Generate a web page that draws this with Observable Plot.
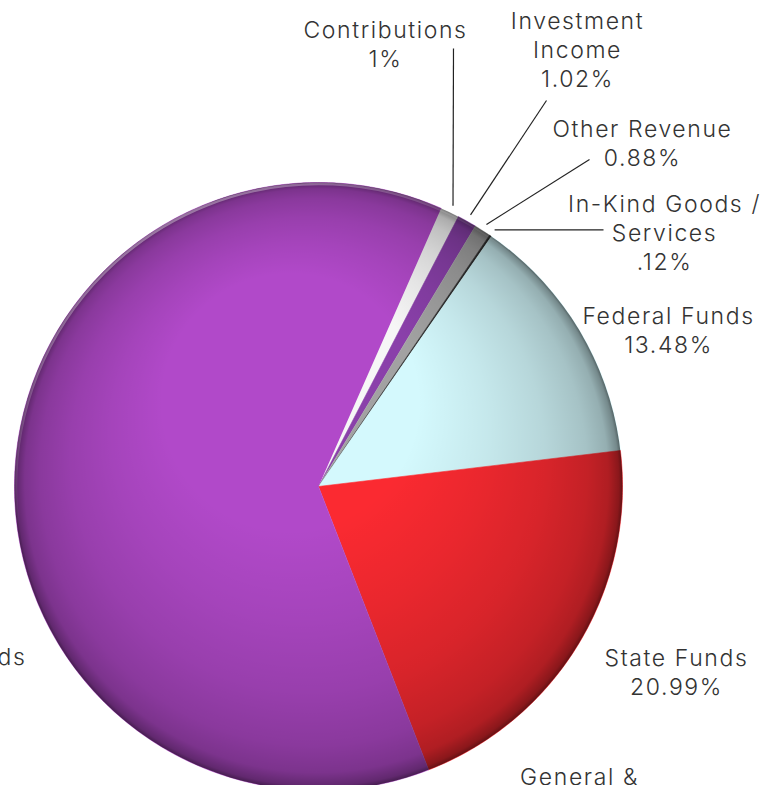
<!DOCTYPE html>
<html><head><meta charset="utf-8">
<script src="https://cdn.jsdelivr.net/npm/d3@7"></script>
<script src="https://cdn.jsdelivr.net/npm/@observablehq/plot@0.6"></script>
<style>html,body{margin:0;padding:0;background:#fff;} svg{display:block;}</style>
</head><body><div id="chart"></div>
<script>
// ---- data ----
const categories = ["Contributions", "Investment Income", "Other Revenue", "In-Kind Goods / Services", "Federal Funds", "State Funds", "General & Funds"];
const values = [1, 1.02, 0.88, 0.12, 13.48, 20.99, 62.51];
const labelTexts = ["Contributions\n1%", "Investment\nIncome\n1.02%", "Other Revenue\n0.88%", "In-Kind Goods /\nServices\n.12%", "Federal Funds\n13.48%", "State Funds\n20.99%", "General &"];
const edgeText = "Funds";

// ---- styles / layout ----
const colors = ["#f6f6f6", "#8a40aa", "#a2a2a2", "#2e2e2e", "#d4f9fd", "#fb2a31", "#b149c9"];
const W = 775, H = 785, CX = 318, CY = 486, R = 304;
const startDeg = 23.8;
// label block centres (pixels) and leader-line outer ends (pixels, null = no leader)
const labelPos = [[385, 43], [577, 48], [642, 142], [664, 231], [668, 329], [676, 671], [579, 775]];
const leaderEnd = [[453, 48], [546, 100], [589, 159], [603, null], null, null, null];

const px = v => (v - CX) / R, py = v => (CY - v) / R;
const total = d3.sum(values);
const rad = d => d * Math.PI / 180;

const slicePts = [];
const mids = [];
let acc = startDeg;
categories.forEach((c, i) => {
  const a0 = acc, a1 = acc + values[i] / total * 360; acc = a1;
  mids.push((a0 + a1) / 2);
  slicePts.push({c, x: 0, y: 0});
  const n = Math.max(2, Math.ceil((a1 - a0) / 0.5));
  for (let k = 0; k <= n; k++) {
    const a = rad(a0 + (a1 - a0) * k / n);
    slicePts.push({c, x: Math.sin(a), y: Math.cos(a)});
  }
});

const leaders = [];
leaderEnd.forEach((e, i) => {
  if (!e) return;
  const a = rad(mids[i]), r = 1.024;
  const x1 = r * Math.sin(a), y1 = r * Math.cos(a);
  leaders.push({x1, y1, x2: px(e[0]), y2: e[1] == null ? y1 : py(e[1])});
});

const labels = labelTexts.map((t, i) => ({t, x: px(labelPos[i][0]), y: py(labelPos[i][1])}));

function defs() {
  const g = d3.create("svg:defs");
  const rg = g.append("radialGradient").attr("id", "shade")
    .attr("cx", 0.5).attr("cy", 0.5).attr("r", 0.5).attr("fx", 0.42).attr("fy", 0.26);
  [[0, 0], [0.42, 0], [0.62, 0.07], [0.78, 0.14], [0.9, 0.22], [0.96, 0.3], [0.99, 0.45], [1, 0.6]]
    .forEach(([o, op]) => rg.append("stop").attr("offset", o).attr("stop-color", "#000").attr("stop-opacity", op));
  const lg = g.append("linearGradient").attr("id", "rim").attr("x1", 0.2).attr("y1", 0).attr("x2", 0.6).attr("y2", 0.7);
  [[0, 0.45], [0.5, 0], [1, 0]]
    .forEach(([o, op]) => lg.append("stop").attr("offset", o).attr("stop-color", "#fff").attr("stop-opacity", op));
  return g.node();
}

const font = "Inter, 'Open Sans', sans-serif";
const textStyle = {fontSize: 23, lineHeight: 1.26, fill: "#333", fontWeight: 300, fontFamily: font};

const chart = Plot.plot({
  width: W, height: H,
  margin: 0,
  style: {background: "#fff", overflow: "visible"},
  x: {domain: [px(0), px(W)], range: [0, W], axis: null},
  y: {domain: [py(H), py(0)], range: [H, 0], axis: null},
  color: {domain: categories, range: colors},
  marks: [
    defs,
    Plot.line(slicePts, {x: "x", y: "y", z: "c", fill: "c", stroke: "c", strokeWidth: 0.6, curve: "linear"}),
    Plot.dot([0], {x: () => 0, y: () => 0, r: R, fill: "url(#shade)", stroke: "none"}),
    Plot.dot([0], {x: () => 0, y: () => 0, r: R - 1.5, fill: "none", stroke: "url(#rim)", strokeWidth: 2.5}),
    Plot.link(leaders, {x1: "x1", y1: "y1", x2: "x2", y2: "y2", stroke: "#222", strokeWidth: 1.2}),
    Plot.text(labels, {x: "x", y: "y", text: "t", textAnchor: "middle", ...textStyle, style: "letter-spacing:1.6px"}),
    Plot.text([edgeText], {x: () => px(26), y: () => py(655), text: d => d, textAnchor: "end", ...textStyle})
  ]
});
chart.querySelectorAll("text").forEach(t => t.setAttribute("letter-spacing", "1.6"));
document.getElementById("chart").appendChild(chart);
</script>
</body></html>
